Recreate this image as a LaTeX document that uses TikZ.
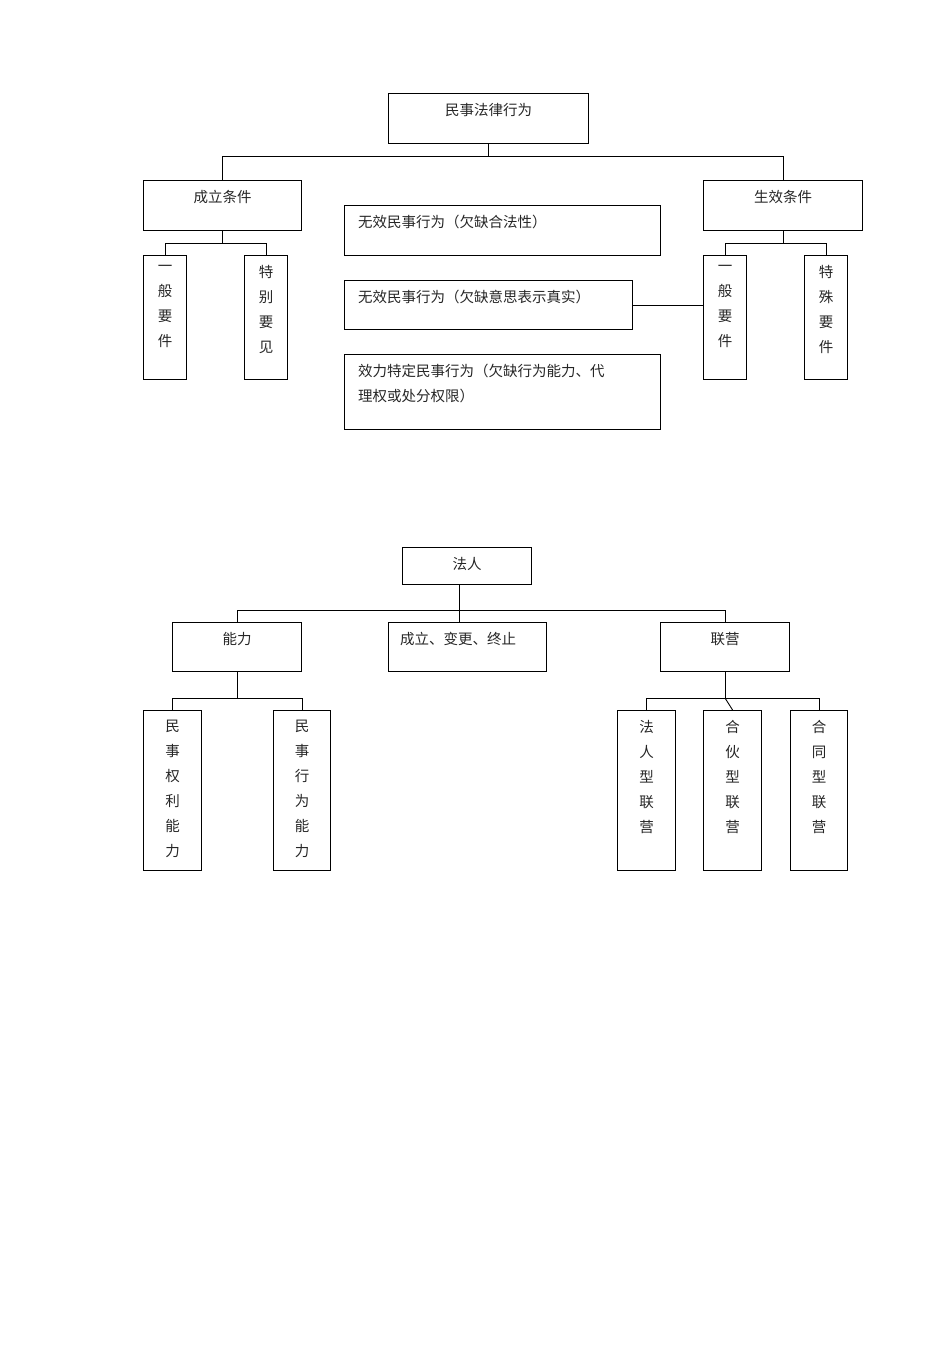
\documentclass[tikz,border=0pt]{standalone}
\usepackage{fontspec}
\newfontfamily\cjk{Noto Sans CJK SC}
\newcommand\mybx[6]{\node[box,minimum width={#4-#2},minimum height={#5-#3}] (#1) at (#2,#3) {};
  \node[txt] at (#1.north) [yshift=-10pt] {#6};}
\begin{document}
\begin{tikzpicture}[x=1pt,y=-1pt,
  box/.style={draw,line width=1.2pt,inner sep=0,anchor=north west},
  txt/.style={font=\cjk\fontsize{14.5}{25}\selectfont,inner sep=0,anchor=north,align=center,text=black!85},
  ltxt/.style={font=\cjk\fontsize{14.5}{25}\selectfont,inner sep=0,anchor=north west,align=left,text=black!85},
  ln/.style={line width=0.9pt}]
\useasboundingbox (0,0) rectangle (950,1345);
% top tree
\mybx{root}{388}{93}{588}{143}{民事法律行为}
\mybx{cl}{143}{180}{301}{230}{成立条件}
\mybx{sx}{703}{180}{862}{230}{生效条件}
\mybx{a1}{143}{255}{186}{379}{一\\般\\要\\件}
\mybx{a2}{244}{255}{287}{379}{特\\别\\要\\见}
\mybx{b1}{703}{255}{746}{379}{一\\般\\要\\件}
\mybx{b2}{804}{255}{847}{379}{特\\殊\\要\\件}
\node[box,minimum width=316,minimum height=50] (m1) at (344,205) {};
\node[ltxt] at (m1.north west) [xshift=14pt,yshift=-10pt] {无效民事行为（欠缺合法性）};
\node[box,minimum width=288,minimum height=49] (m2) at (344,280) {};
\node[ltxt] at (m2.north west) [xshift=14pt,yshift=-10pt] {无效民事行为（欠缺意思表示真实）};
\node[box,minimum width=316,minimum height=75] (m3) at (344,354) {};
\node[ltxt] at (m3.north west) [xshift=14pt,yshift=-10pt] {效力特定民事行为（欠缺行为能力、代\\理权或处分权限）};
\draw[ln] (root.south) -- ++(0,12) coordinate (j1);
\draw[ln] (cl.north) |- (j1) -| (sx.north);
\draw[ln] (cl.south) -- ++(0,12) coordinate (j2);
\draw[ln] (a1.north) |- (j2) -| (a2.north);
\draw[ln] (sx.south) -- ++(0,12) coordinate (j3);
\draw[ln] (b1.north) |- (j3) -| (b2.north);
\draw[ln] (m2.east) -- (b1.west |- m2.east);
% bottom tree
\mybx{fr}{402}{547}{531}{584}{法人}
\mybx{nl}{172}{622}{301}{671}{能力}
\node[box,minimum width=158,minimum height=49] (cb) at (388,622) {};
\node[ltxt] at (cb.north west) [xshift=12pt,yshift=-10pt] {成立、变更、终止};
\mybx{ly}{660}{622}{789}{671}{联营}
\mybx{c1}{143}{710}{201}{870}{民\\事\\权\\利\\能\\力}
\mybx{c2}{273}{710}{330}{870}{民\\事\\行\\为\\能\\力}
\mybx{d1}{617}{710}{675}{870}{法\\人\\型\\联\\营}
\mybx{d2}{703}{710}{761}{870}{合\\伙\\型\\联\\营}
\mybx{d3}{790}{710}{847}{870}{合\\同\\型\\联\\营}
\coordinate (j4) at (459,610);
\draw[ln] (fr.south -| j4) -- (j4 |- cb.north);
\draw[ln] (nl.north) |- (j4) -| (ly.north);
\draw[ln] (nl.south) -- ++(0,26) coordinate (j5);
\draw[ln] (c1.north) |- (j5) -| (c2.north);
\draw[ln] (ly.south) -- ++(0,26) coordinate (j6);
\draw[ln] (d1.north) |- (j6) -| (d3.north);
\draw[ln] (j6) -- (d2.north);
\end{tikzpicture}
\end{document}
